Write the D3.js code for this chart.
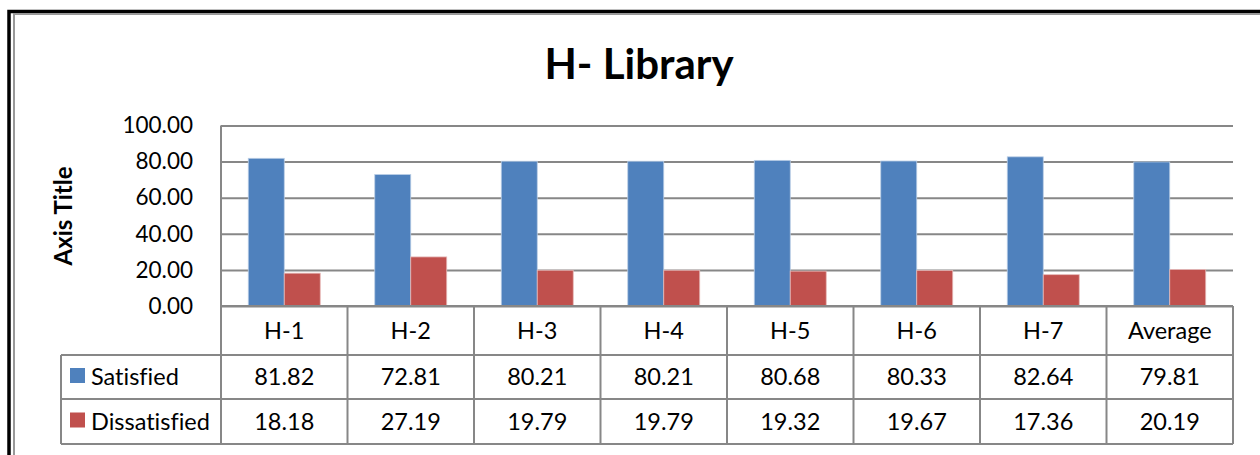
<!DOCTYPE html>
<html>
<head>
<meta charset="utf-8">
<script src="https://cdn.jsdelivr.net/npm/d3@7"></script>
<style>
    body { margin: 0; background: #fff; }
    svg { display: block; font-family: Lato, 'Open Sans', sans-serif; font-variant-ligatures: none; }
</style>
</head>
<body>
<div id="body"></div>
<script>
const categories = ['H-1', 'H-2', 'H-3', 'H-4', 'H-5', 'H-6', 'H-7', 'Average'];
const seriesNames = ['Satisfied', 'Dissatisfied'];
const satisfied = [81.82, 72.81, 80.21, 80.21, 80.68, 80.33, 82.64, 79.81];
const dissatisfied = [18.18, 27.19, 19.79, 19.79, 19.32, 19.67, 17.36, 20.19];
const yTicks = [0, 20, 40, 60, 80, 100];
const colors = ['#4f81bd', '#c0504d'];

const width = 1260, height = 455;
const margins = {left: 221, right: 27, top: 125.5, bottom: 149};
const plotBottom = height - margins.bottom;  // 306
const rows = [plotBottom, 355, 399, 444];
const legendLeft = 61;
const gridColor = '#878787';
const fontSize = 23.5;

const svg = d3.select('#body').append('svg')
    .attr('width', width)
    .attr('height', height);

// frame: black outer + gray inner line
svg.append('rect')
    .attr('x', 9).attr('y', 11.5)
    .attr('width', 1300).attr('height', 500)
    .attr('fill', 'none').attr('stroke', '#000').attr('stroke-width', 3.5);
svg.append('rect')
    .attr('x', 14).attr('y', 14)
    .attr('width', 1300).attr('height', 500)
    .attr('fill', 'none').attr('stroke', '#999').attr('stroke-width', 2);

const x = d3.scaleBand()
    .domain(categories)
    .range([margins.left, width - margins.right])
    .paddingInner(0.431)
    .paddingOuter(0.2155);
const xSub = d3.scaleBand()
    .domain(seriesNames)
    .range([0, x.bandwidth()]);
const y = d3.scaleLinear()
    .domain([0, 100])
    .range([plotBottom, margins.top]);

// title
svg.append('text')
    .attr('x', 639).attr('y', 79)
    .attr('text-anchor', 'middle')
    .attr('font-size', 42).attr('font-weight', 'bold')
    .text('H- Library');

// y axis with gridlines
const yAxis = d3.axisLeft(y)
    .tickValues(yTicks)
    .tickFormat(d3.format('.2f'))
    .tickSize(-(width - margins.left - margins.right))
    .tickPadding(28);
const yg = svg.append('g')
    .attr('transform', `translate(${margins.left},0)`)
    .call(yAxis);
yg.select('.domain').remove();
yg.selectAll('.tick line').attr('stroke', gridColor).attr('stroke-width', 2);
yg.selectAll('.tick text')
    .attr('font-family', 'Lato, sans-serif')
    .attr('font-size', 22.5).attr('fill', '#000');

// plot left border
svg.append('line')
    .attr('x1', margins.left).attr('x2', margins.left)
    .attr('y1', margins.top).attr('y2', plotBottom)
    .attr('stroke', gridColor).attr('stroke-width', 2);

// axis title
svg.append('text')
    .attr('transform', 'translate(72,216) rotate(-90)')
    .attr('text-anchor', 'middle')
    .attr('font-size', 24).attr('font-weight', 'bold')
    .text('Axis Title');

// bars
const seriesData = [satisfied, dissatisfied];
seriesNames.forEach((name, si) => {
    svg.append('g').selectAll('rect')
        .data(categories.map((c, i) => ({c, v: seriesData[si][i]})))
        .enter().append('rect')
        .attr('x', d => x(d.c) + xSub(name))
        .attr('y', d => y(d.v))
        .attr('width', xSub.bandwidth())
        .attr('height', d => y(0) - y(d.v))
        .attr('fill', colors[si])
        .attr('stroke', si === 0 ? '#b9cde5' : '#e6b9b8')
        .attr('stroke-width', 0.8);
});

// data table
const table = svg.append('g').attr('stroke', gridColor).attr('stroke-width', 2);
const colEdges = categories.map(c => x(c) - x.step() * x.paddingInner() / 2)
    .concat([width - margins.right]);
colEdges.forEach(cx => {
    table.append('line')
        .attr('x1', cx).attr('x2', cx)
        .attr('y1', rows[0]).attr('y2', rows[3]);
});
table.append('line')
    .attr('x1', legendLeft).attr('x2', legendLeft)
    .attr('y1', rows[1]).attr('y2', rows[3]);
rows.forEach((ry, i) => {
    table.append('line')
        .attr('x1', i === 0 ? margins.left : legendLeft).attr('x2', width - margins.right)
        .attr('y1', ry).attr('y2', ry);
});

const cx = c => x(c) + x.bandwidth() / 2;
svg.append('g').selectAll('text')
    .data(categories)
    .enter().append('text')
    .attr('x', cx)
    .attr('y', (rows[0] + rows[1]) / 2)
    .attr('dy', '0.35em')
    .attr('text-anchor', 'middle')
    .attr('font-size', fontSize)
    .text(d => d);

seriesNames.forEach((name, si) => {
    const rc = (rows[si + 1] + rows[si + 2]) / 2;
    svg.append('rect')
        .attr('x', 70).attr('y', rc - 9)
        .attr('width', 15).attr('height', 15)
        .attr('fill', colors[si]);
    svg.append('text')
        .attr('x', 91).attr('y', rc)
        .attr('dy', '0.35em')
        .attr('font-size', fontSize)
        .text(name);
    svg.append('g').selectAll('text')
        .data(categories.map((c, i) => ({c, v: seriesData[si][i]})))
        .enter().append('text')
        .attr('x', d => cx(d.c))
        .attr('y', rc)
        .attr('dy', '0.35em')
        .attr('text-anchor', 'middle')
        .attr('font-size', fontSize)
        .text(d => d3.format('.2f')(d.v));
});
</script>
</body>
</html>
